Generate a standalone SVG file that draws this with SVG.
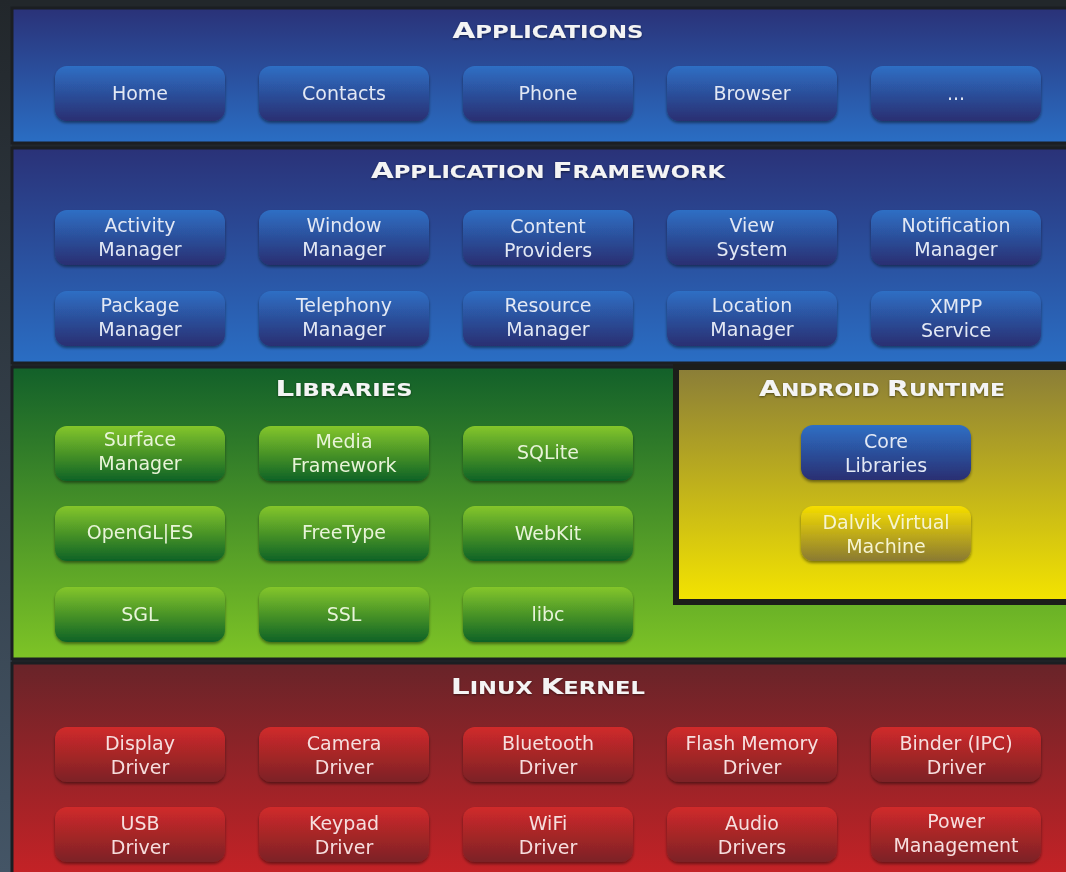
<svg xmlns="http://www.w3.org/2000/svg" width="1066" height="872" viewBox="0 0 1066 872">
<defs>
<linearGradient id="bgL" x1="0" y1="0" x2="0" y2="1"><stop offset="0" stop-color="#22272b"/><stop offset="1" stop-color="#445566"/></linearGradient>
<linearGradient id="pBlue" x1="0" y1="0" x2="0" y2="1"><stop offset="0" stop-color="#2a3278"/><stop offset="1" stop-color="#2a6ec4"/></linearGradient>
<linearGradient id="pGreen" x1="0" y1="0" x2="0" y2="1"><stop offset="0" stop-color="#12602a"/><stop offset="1" stop-color="#7ec426"/></linearGradient>
<linearGradient id="pYellow" x1="0" y1="0" x2="0" y2="1"><stop offset="0" stop-color="#8a7d38"/><stop offset="1" stop-color="#f4e400"/></linearGradient>
<linearGradient id="pRed" x1="0" y1="0" x2="0" y2="1"><stop offset="0" stop-color="#682429"/><stop offset="1" stop-color="#c82226"/></linearGradient>
<linearGradient id="bBlue" x1="0" y1="0" x2="0" y2="1"><stop offset="0" stop-color="#2e6fc4"/><stop offset="1" stop-color="#2a2f72"/></linearGradient>
<linearGradient id="bGreen" x1="0" y1="0" x2="0" y2="1"><stop offset="0" stop-color="#84c62a"/><stop offset="1" stop-color="#0e6226"/></linearGradient>
<linearGradient id="bYellow" x1="0" y1="0" x2="0" y2="1"><stop offset="0" stop-color="#f6de00"/><stop offset="1" stop-color="#8a7a32"/></linearGradient>
<linearGradient id="bRed" x1="0" y1="0" x2="0" y2="1"><stop offset="0" stop-color="#d02a2a"/><stop offset="1" stop-color="#7c2226"/></linearGradient>
<filter id="sh" x="-10%" y="-20%" width="120%" height="150%"><feGaussianBlur in="SourceAlpha" stdDeviation="1.5"/><feOffset dy="1.5"/><feComponentTransfer><feFuncA type="linear" slope="0.45"/></feComponentTransfer><feMerge><feMergeNode/><feMergeNode in="SourceGraphic"/></feMerge></filter>
<filter id="tsh" x="-5%" y="-30%" width="110%" height="160%"><feGaussianBlur in="SourceAlpha" stdDeviation="1"/><feOffset dy="1"/><feComponentTransfer><feFuncA type="linear" slope="0.5"/></feComponentTransfer><feMerge><feMergeNode/><feMergeNode in="SourceGraphic"/></feMerge></filter>
</defs>
<style>
.panel{stroke:#1b1e22;stroke-width:3}
.btn{filter:url(#sh)}
.t{font-family:"DejaVu Sans","Verdana",sans-serif;font-size:19px;text-anchor:middle;transform:translate(0px,1px)}
.tb{fill:#e2e8f4}.tg{fill:#e8f4d8}.ty{fill:#f6f4d0}.tr{fill:#f6dede}
.title{font-family:"DejaVu Sans",sans-serif;font-weight:bold;fill:#f4f4f4;text-anchor:middle;font-size:17px;filter:url(#tsh)}
.big{font-size:22px}
</style>
<rect x="0" y="0" width="1066" height="872" fill="#22272b"/>
<rect x="0" y="0" width="12" height="872" fill="url(#bgL)"/>

<g id="applications">
<rect class="panel" x="12" y="8" width="1064" height="135" fill="url(#pBlue)"/>
<text class="title" x="548" y="38" textLength="191" lengthAdjust="spacingAndGlyphs"><tspan class="big">A</tspan>PPLICATIONS</text>
</g>
<g id="framework">
<rect class="panel" x="12" y="148" width="1064" height="215" fill="url(#pBlue)"/>
<text class="title" x="548" y="178" textLength="354" lengthAdjust="spacingAndGlyphs"><tspan class="big">A</tspan>PPLICATION <tspan class="big">F</tspan>RAMEWORK</text>
</g>
<g id="libraries">
<rect class="panel" x="12" y="367" width="1064" height="292" fill="url(#pGreen)"/>
<text class="title" x="344" y="396" textLength="137" lengthAdjust="spacingAndGlyphs"><tspan class="big">L</tspan>IBRARIES</text>
</g>
<g id="runtime">
<rect x="676" y="367" width="400" height="235" fill="url(#pYellow)" stroke="#1c1d1a" stroke-width="6"/>
<text class="title" x="882" y="396" textLength="246" lengthAdjust="spacingAndGlyphs"><tspan class="big">A</tspan>NDROID <tspan class="big">R</tspan>UNTIME</text>
</g>
<g id="kernel">
<rect class="panel" x="12" y="663" width="1064" height="220" fill="url(#pRed)"/>
<text class="title" x="548" y="694" textLength="194" lengthAdjust="spacingAndGlyphs"><tspan class="big">L</tspan>INUX <tspan class="big">K</tspan>ERNEL</text>
</g>

<!-- Applications -->
<g id="home" class="btn"><rect x="55" y="66" width="170" height="55" rx="12" fill="url(#bBlue)"/><text class="t tb" x="140" y="99">Home</text></g>
<g id="contacts" class="btn"><rect x="259" y="66" width="170" height="55" rx="12" fill="url(#bBlue)"/><text class="t tb" x="344" y="99">Contacts</text></g>
<g id="phone" class="btn"><rect x="463" y="66" width="170" height="55" rx="12" fill="url(#bBlue)"/><text class="t tb" x="548" y="99">Phone</text></g>
<g id="browser" class="btn"><rect x="667" y="66" width="170" height="55" rx="12" fill="url(#bBlue)"/><text class="t tb" x="752" y="99">Browser</text></g>
<g id="more" class="btn"><rect x="871" y="66" width="170" height="55" rx="12" fill="url(#bBlue)"/><text class="t tb" x="956" y="99">...</text></g>

<!-- Framework -->
<g id="activity" class="btn"><rect x="55" y="210" width="170" height="55" rx="12" fill="url(#bBlue)"/><text class="t tb" x="140" y="231">Activity</text><text class="t tb" x="140" y="255">Manager</text></g>
<g id="window" class="btn"><rect x="259" y="210" width="170" height="55" rx="12" fill="url(#bBlue)"/><text class="t tb" x="344" y="231">Window</text><text class="t tb" x="344" y="255">Manager</text></g>
<g id="content" class="btn"><rect x="463" y="210" width="170" height="55" rx="12" fill="url(#bBlue)"/><text class="t tb" x="548" y="232">Content</text><text class="t tb" x="548" y="256">Providers</text></g>
<g id="view" class="btn"><rect x="667" y="210" width="170" height="55" rx="12" fill="url(#bBlue)"/><text class="t tb" x="752" y="231">View</text><text class="t tb" x="752" y="255">System</text></g>
<g id="notification" class="btn"><rect x="871" y="210" width="170" height="55" rx="12" fill="url(#bBlue)"/><text class="t tb" x="956" y="231">Notification</text><text class="t tb" x="956" y="255">Manager</text></g>
<g id="package" class="btn"><rect x="55" y="291" width="170" height="55" rx="12" fill="url(#bBlue)"/><text class="t tb" x="140" y="311">Package</text><text class="t tb" x="140" y="335">Manager</text></g>
<g id="telephony" class="btn"><rect x="259" y="291" width="170" height="55" rx="12" fill="url(#bBlue)"/><text class="t tb" x="344" y="311">Telephony</text><text class="t tb" x="344" y="335">Manager</text></g>
<g id="resource" class="btn"><rect x="463" y="291" width="170" height="55" rx="12" fill="url(#bBlue)"/><text class="t tb" x="548" y="311">Resource</text><text class="t tb" x="548" y="335">Manager</text></g>
<g id="location" class="btn"><rect x="667" y="291" width="170" height="55" rx="12" fill="url(#bBlue)"/><text class="t tb" x="752" y="311">Location</text><text class="t tb" x="752" y="335">Manager</text></g>
<g id="xmpp" class="btn"><rect x="871" y="291" width="170" height="55" rx="12" fill="url(#bBlue)"/><text class="t tb" x="956" y="312">XMPP</text><text class="t tb" x="956" y="336">Service</text></g>

<!-- Libraries -->
<g id="surface" class="btn"><rect x="55" y="426" width="170" height="55" rx="12" fill="url(#bGreen)"/><text class="t tg" x="140" y="445">Surface</text><text class="t tg" x="140" y="469">Manager</text></g>
<g id="media" class="btn"><rect x="259" y="426" width="170" height="55" rx="12" fill="url(#bGreen)"/><text class="t tg" x="344" y="447">Media</text><text class="t tg" x="344" y="471">Framework</text></g>
<g id="sqlite" class="btn"><rect x="463" y="426" width="170" height="55" rx="12" fill="url(#bGreen)"/><text class="t tg" x="548" y="458">SQLite</text></g>
<g id="opengl" class="btn"><rect x="55" y="506" width="170" height="55" rx="12" fill="url(#bGreen)"/><text class="t tg" x="140" y="538">OpenGL|ES</text></g>
<g id="freetype" class="btn"><rect x="259" y="506" width="170" height="55" rx="12" fill="url(#bGreen)"/><text class="t tg" x="344" y="538">FreeType</text></g>
<g id="webkit" class="btn"><rect x="463" y="506" width="170" height="55" rx="12" fill="url(#bGreen)"/><text class="t tg" x="548" y="539">WebKit</text></g>
<g id="sgl" class="btn"><rect x="55" y="587" width="170" height="55" rx="12" fill="url(#bGreen)"/><text class="t tg" x="140" y="620">SGL</text></g>
<g id="ssl" class="btn"><rect x="259" y="587" width="170" height="55" rx="12" fill="url(#bGreen)"/><text class="t tg" x="344" y="620">SSL</text></g>
<g id="libc" class="btn"><rect x="463" y="587" width="170" height="55" rx="12" fill="url(#bGreen)"/><text class="t tg" x="548" y="620">libc</text></g>

<!-- Runtime -->
<g id="core" class="btn"><rect x="801" y="425" width="170" height="55" rx="12" fill="url(#bBlue)"/><text class="t tb" x="886" y="447">Core</text><text class="t tb" x="886" y="471">Libraries</text></g>
<g id="dalvik" class="btn"><rect x="801" y="506" width="170" height="55" rx="12" fill="url(#bYellow)"/><text class="t ty" x="886" y="528">Dalvik Virtual</text><text class="t ty" x="886" y="552">Machine</text></g>

<!-- Kernel -->
<g id="display" class="btn"><rect x="55" y="727" width="170" height="55" rx="12" fill="url(#bRed)"/><text class="t tr" x="140" y="749">Display</text><text class="t tr" x="140" y="773">Driver</text></g>
<g id="camera" class="btn"><rect x="259" y="727" width="170" height="55" rx="12" fill="url(#bRed)"/><text class="t tr" x="344" y="749">Camera</text><text class="t tr" x="344" y="773">Driver</text></g>
<g id="bluetooth" class="btn"><rect x="463" y="727" width="170" height="55" rx="12" fill="url(#bRed)"/><text class="t tr" x="548" y="749">Bluetooth</text><text class="t tr" x="548" y="773">Driver</text></g>
<g id="flash" class="btn"><rect x="667" y="727" width="170" height="55" rx="12" fill="url(#bRed)"/><text class="t tr" x="752" y="749">Flash Memory</text><text class="t tr" x="752" y="773">Driver</text></g>
<g id="binder" class="btn"><rect x="871" y="727" width="170" height="55" rx="12" fill="url(#bRed)"/><text class="t tr" x="956" y="749">Binder (IPC)</text><text class="t tr" x="956" y="773">Driver</text></g>
<g id="usb" class="btn"><rect x="55" y="807" width="170" height="55" rx="12" fill="url(#bRed)"/><text class="t tr" x="140" y="829">USB</text><text class="t tr" x="140" y="853">Driver</text></g>
<g id="keypad" class="btn"><rect x="259" y="807" width="170" height="55" rx="12" fill="url(#bRed)"/><text class="t tr" x="344" y="829">Keypad</text><text class="t tr" x="344" y="853">Driver</text></g>
<g id="wifi" class="btn"><rect x="463" y="807" width="170" height="55" rx="12" fill="url(#bRed)"/><text class="t tr" x="548" y="829">WiFi</text><text class="t tr" x="548" y="853">Driver</text></g>
<g id="audio" class="btn"><rect x="667" y="807" width="170" height="55" rx="12" fill="url(#bRed)"/><text class="t tr" x="752" y="829">Audio</text><text class="t tr" x="752" y="853">Drivers</text></g>
<g id="power" class="btn"><rect x="871" y="807" width="170" height="55" rx="12" fill="url(#bRed)"/><text class="t tr" x="956" y="827">Power</text><text class="t tr" x="956" y="851">Management</text></g>

<g id="connectors"></g>
</svg>
